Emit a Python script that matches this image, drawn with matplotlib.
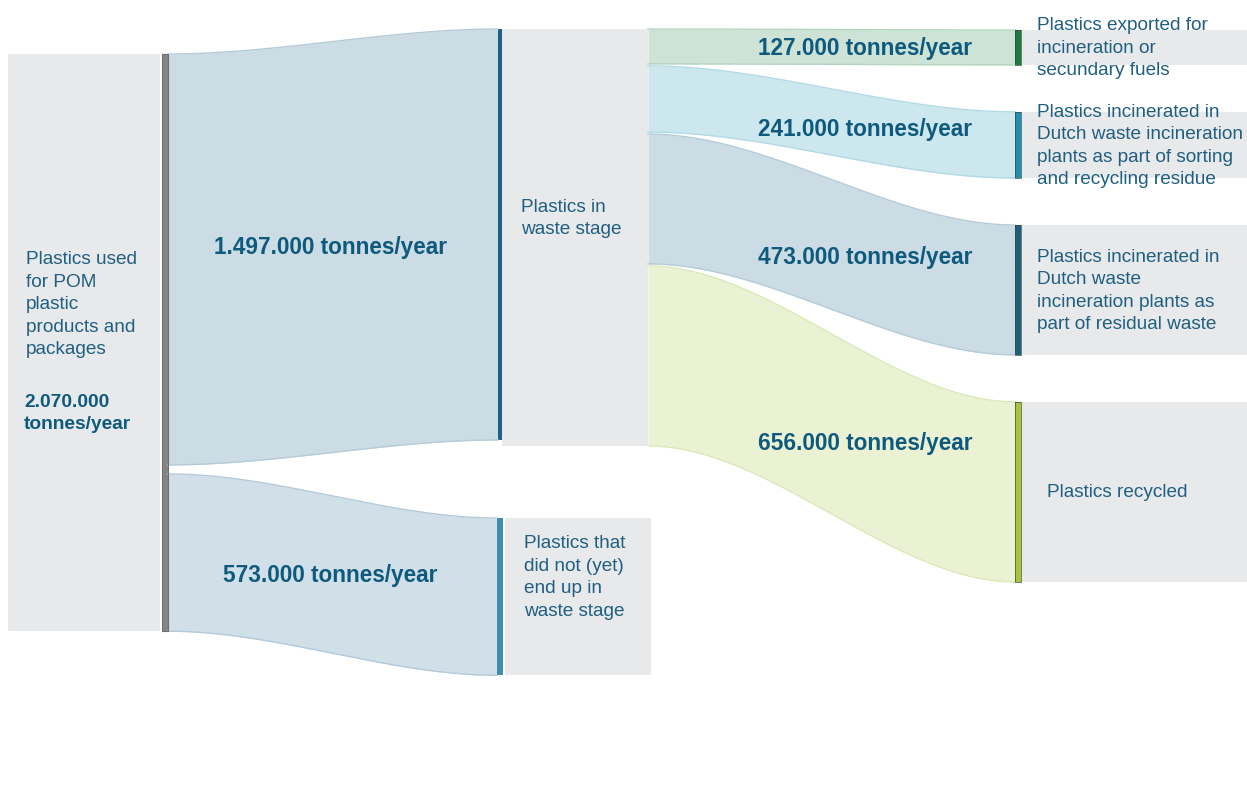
import numpy as np
import matplotlib.pyplot as plt

plt.rcParams['font.family'] = ['Liberation Sans', 'DejaVu Sans']

# Data: thousand tonnes per year
source_name = 'Plastics used\nfor POM\nplastic\nproducts and\npackages'
source_value = 2070
stage1_names = ['Plastics in\nwaste stage',
                'Plastics that\ndid not (yet)\nend up in\nwaste stage']
stage1_values = [1497, 573]
stage2_names = ['Plastics exported for\nincineration or\nsecundary fuels',
                'Plastics incinerated in\nDutch waste incineration\nplants as part of sorting\nand recycling residue',
                'Plastics incinerated in\nDutch waste\nincineration plants as\npart of residual waste',
                'Plastics recycled']
stage2_values = [127, 241, 473, 656]

# Styles
text_col = '#1f5f82'
bold_col = '#0e5a7e'
box_col = '#e8e9eb'
stage1_flow_fc = ['#ccdce4', '#d1dfe8']
stage1_flow_ec = ['#b4cbd8', '#b3cadb']
stage1_bar = ['#1d6185', '#3f8db0']
stage2_flow_fc = ['#cde3d6', '#cde7ee', '#ccdce4', '#ebf2d3']
stage2_flow_ec = ['#b4d6c1', '#b2dae6', '#b4cbd8', '#dce9b9']
stage2_bar = ['#1e7b3e', '#1f8fb2', '#1c5f80', '#a8c43a']
LS = 1.42

W, H = 1247, 804
PX_PER_KT = 0.2745          # vertical scale: pixels per thousand tonnes


def px(v):
    # layout distance given in pixels -> axis units (kt)
    return v / PX_PER_KT


def fmt(v):
    return f'{v * 1000:,}'.replace(',', '.') + ' tonnes/year'


fig = plt.figure(figsize=(W / 100, H / 100), dpi=100)
ax = fig.add_axes([0, 0, 1, 1])
ax.set_xlim(0, W)
ax.set_ylim(px(H), 0)
ax.axis('off')


def bar(x0, x1, y0, h, fc, ec=None, lw=0):
    ax.fill_between([x0, x1], y0, y0 + h, color=fc, lw=0)
    if ec:
        ax.plot([x0, x1, x1, x0, x0], [y0, y0, y0 + h, y0 + h, y0], color=ec, lw=lw)


def ribbon(x0, x1, a0, b0, h, fc, ec):
    t = np.linspace(0, 1, 200)
    s = 3 * t ** 2 - 2 * t ** 3
    x = x0 + (x1 - x0) * t
    top = a0 + (b0 - a0) * s
    bot = top + h
    ax.fill_between(x, top, bot, color=fc, lw=0)
    ax.plot(x, top, color=ec, lw=1.0)
    ax.plot(x, bot, color=ec, lw=1.0)
    return x, top, bot


# ---- source node
src_top = px(55)
src_gap = px(9)
src_h = stage1_values[0] + src_gap + stage1_values[1]
bar(8, 160, src_top, src_h, box_col)
c = src_top + src_h / 2
ax.text(26, c - px(39), source_name, color=text_col, fontsize=13.7,
        ha='left', va='center', linespacing=LS)
ax.text(24, c + px(70), '2.070.000\ntonnes/year', color=bold_col, fontsize=13.8,
        fontweight='bold', ha='left', va='center', linespacing=LS)

# ---- stage 1 nodes and flows
mid_tops = [px(30), px(519)]
out_gap = px(2)
mid_box_h = [sum(stage2_values) + out_gap * (len(stage2_values) - 1), stage1_values[1]]
bar_x = [(498, 502), (497, 503)]
box_x = [(502, 648), (505, 651)]
y_src = src_top
for i, v in enumerate(stage1_values):
    x, top, bot = ribbon(168, bar_x[i][0], y_src, mid_tops[i], v,
                         stage1_flow_fc[i], stage1_flow_ec[i])
    k = len(x) // 2
    ax.text(330, (top[k] + bot[k]) / 2, fmt(v), color=bold_col, fontsize=16.3,
            fontweight='bold', ha='center', va='center')
    bar(*box_x[i], mid_tops[i], mid_box_h[i], box_col)
    bar(*bar_x[i], mid_tops[i], v, stage1_bar[i])
    ax.text(box_x[i][0] + 19, mid_tops[i] + mid_box_h[i] / 2 - px(20), stage1_names[i],
            color=text_col, fontsize=13.7, ha='left', va='center', linespacing=LS)
    y_src += v + src_gap
bar(162, 168, src_top, src_h, '#858585', '#6f6f6f', 0.8)

# ---- stage 2 nodes and flows
right_top = px(31)
right_gap = px(47)
label_x = [1037, 1037, 1037, 1047]
y_src = mid_tops[0]
y_dst = right_top
for i, v in enumerate(stage2_values):
    x, top, bot = ribbon(648, 1015, y_src, y_dst, v,
                         stage2_flow_fc[i], stage2_flow_ec[i])
    k = np.searchsorted(x, 865)
    ax.text(865, (top[k] + bot[k]) / 2, fmt(v), color=bold_col, fontsize=16.3,
            fontweight='bold', ha='center', va='center')
    bar(1022, W, y_dst, v, box_col)
    bar(1015, 1021, y_dst, v, stage2_bar[i], '#3a4a3a', 0.5)
    ax.text(label_x[i], y_dst + v / 2, stage2_names[i], color=text_col, fontsize=13.7,
            ha='left', va='center', linespacing=LS)
    y_src += v + out_gap
    y_dst += v + right_gap

fig.savefig('out.png', dpi=100, facecolor='white')
